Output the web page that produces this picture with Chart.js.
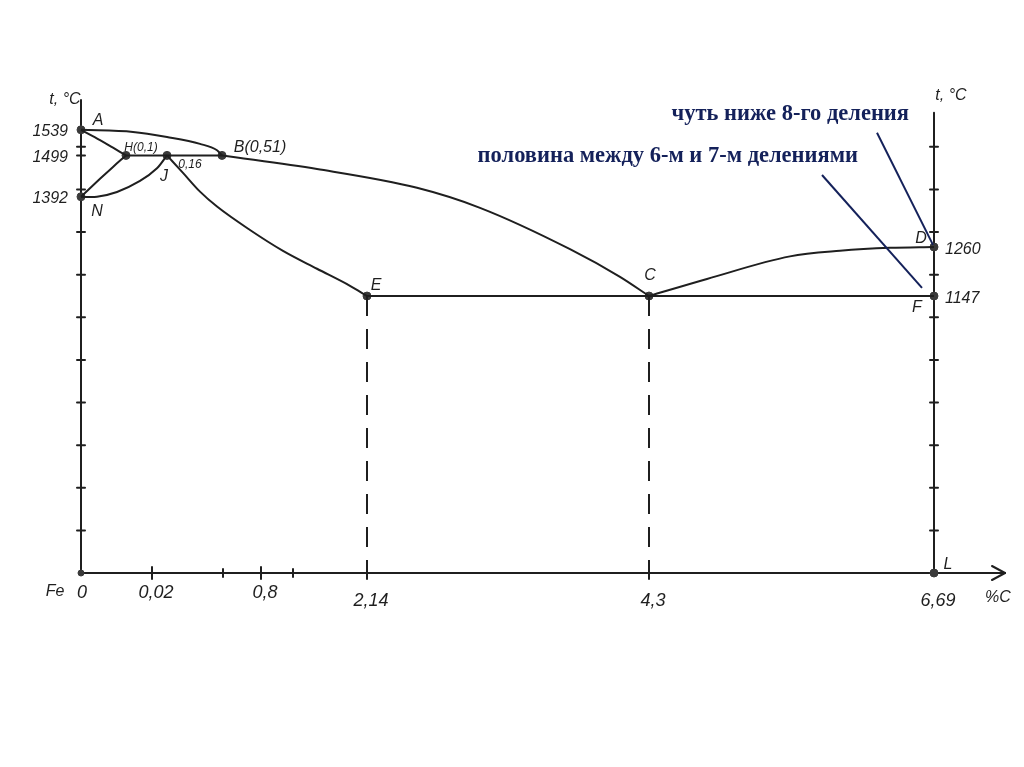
<!DOCTYPE html>
<html>
<head>
<meta charset="utf-8">
<script src="https://cdn.jsdelivr.net/npm/chart.js@4.4.0/dist/chart.umd.min.js"></script>
<style>
  html, body { margin: 0; padding: 0; background: #fff; }
  canvas { display: block; }
</style>
</head>
<body>
<canvas id="myChart" width="1024" height="767"></canvas>
<script>
// Sketch units: x = position along the %C axis of the drawing, y = axis divisions
const curveAB = [[0, 10.4], [5.2, 10.35], [8.6, 10.23], [11.9, 10.07], [13.6, 9.92], [14.1, 9.8]];
const curveBC = [[14.1, 9.8], [23.6, 9.48], [33.6, 9.04], [39.9, 8.57], [48.9, 7.6], [53.9, 6.95], [56.8, 6.5]];
const curveCD = [[56.8, 6.5], [62.6, 6.9], [70.9, 7.43], [75.9, 7.56], [80.9, 7.63], [85.3, 7.65]];
const curveJE = [[8.6, 9.8], [10.2, 9.39], [11.9, 8.95], [13.6, 8.6], [16.9, 8.05], [20.2, 7.56], [23.6, 7.14], [26.9, 6.74], [28.6, 6.5]];
const curveAH = [[0, 10.4], [1.9, 10.16], [3.2, 9.98], [4.5, 9.8]];
const curveHN = [[4.5, 9.8], [3.2, 9.53], [1.9, 9.25], [0, 8.83]];
const curveNJ = [[0, 8.83], [1.6, 8.83], [3.6, 8.94], [5.9, 9.2], [7.6, 9.5], [8.6, 9.8]];
const lineHJB = [[4.5, 9.8], [8.6, 9.8], [14.1, 9.8]];
const lineECF = [[28.6, 6.5], [56.8, 6.5], [85.3, 6.5]];
const dropE = [[28.6, 6.5], [28.6, 0]];
const dropC = [[56.8, 6.5], [56.8, 0]];

const pointNames = ['A', 'H', 'J', 'B', 'N', 'E', 'C', 'D', 'F', 'L', 'O'];
const pointX = [0, 4.5, 8.6, 14.1, 0, 28.6, 56.8, 85.3, 85.3, 85.3, 0];
const pointY = [10.4, 9.8, 9.8, 9.8, 8.83, 6.5, 6.5, 7.65, 6.5, 0, 0];

const carbonTicks = [0, 7.1, 18.0, 28.6, 56.8, 85.3];
const carbonLabels = ['0', '0,02', '0,8', '2,14', '4,3', '6,69'];
const minorCarbonTicks = [14.2, 21.2];
const divisions = [1, 2, 3, 4, 5, 6, 7, 8, 9, 10];

const leftTemps = ['1539', '1499', '1392'];
const leftTempLevels = [10.4, 9.8, 8.83];
const rightTemps = ['1260', '1147'];
const rightTempLevels = [7.65, 6.5];

const notes = ['чуть ниже 8-го деления', 'половина между 6-м и 7-м делениями'];
const noteFrom = [[79.6, 10.33], [74.1, 9.34]];
const noteTo = [[85.2, 7.7], [84.1, 6.69]];

const toXY = arr => arr.map(p => ({ x: p[0], y: p[1] }));
const ink = '#1f1f1f';
const hand = 'italic 16px "Liberation Sans", sans-serif';

function curve(points, extra) {
    return Object.assign({
        data: toXY(points),
        showLine: true,
        borderColor: ink,
        borderWidth: 2,
        pointRadius: 0,
        tension: 0.35,
        fill: false,
        clip: false,
    }, extra || {});
}

const smooth = { cubicInterpolationMode: 'monotone' };

// point-name label offsets (px) from each marker
const nameOffsets = {
    A: [17, -9], H: [0, 0], J: [-3, 21], B: [0, 0], N: [16, 15],
    E: [9, -10], C: [1, -20], D: [-13, -8], F: [-17, 12], L: [14, -8], O: [0, 0],
};

const sketchPlugin = {
    id: 'sketch',
    beforeDatasetsDraw(chart) {
        const { ctx, scales: { x, y } } = chart;
        const px = v => x.getPixelForValue(v);
        const py = v => y.getPixelForValue(v);
        const seg = (a, b, c, d) => { ctx.beginPath(); ctx.moveTo(a, b); ctx.lineTo(c, d); ctx.stroke(); };
        ctx.save();
        ctx.strokeStyle = ink;
        ctx.lineWidth = 2;
        ctx.lineCap = 'round';

        const y0 = py(0);
        const xL = px(0);
        const xEnd = px(x.max);
        const xR = px(85.3);
        // %C axis with arrow
        seg(xL, y0, xEnd, y0);
        seg(xEnd - 13, y0 - 7, xEnd, y0);
        seg(xEnd - 13, y0 + 7, xEnd, y0);
        // temperature axes
        seg(xL, y0, xL, py(y.max));
        seg(xR, y0, xR, py(10.8));
        divisions.forEach(d => {
            seg(xL - 4, py(d), xL + 4, py(d));
            seg(xR - 4, py(d), xR + 4, py(d));
        });
        seg(xL - 4, py(9.8), xL + 4, py(9.8));
        // %C ticks
        carbonTicks.slice(1, 5).forEach(c => seg(px(c), y0 - 6, px(c), y0 + 6));
        minorCarbonTicks.forEach(c => seg(px(c), y0 - 4, px(c), y0 + 4));
        ctx.restore();
    },
    afterDatasetsDraw(chart) {
        const { ctx, scales: { x, y } } = chart;
        const px = v => x.getPixelForValue(v);
        const py = v => y.getPixelForValue(v);
        ctx.save();
        ctx.fillStyle = ink;
        ctx.textBaseline = 'middle';
        ctx.textAlign = 'center';
        ctx.font = hand;

        pointNames.forEach((n, i) => {
            const off = nameOffsets[n];
            if (n === 'O' || n === 'H' || n === 'B') return;
            ctx.fillText(n, px(pointX[i]) + off[0], py(pointY[i]) + off[1]);
        });
        // composition notes
        const hi = pointNames.indexOf('H');
        const bi = pointNames.indexOf('B');
        const ji = pointNames.indexOf('J');
        ctx.font = 'italic 12px "Liberation Sans", sans-serif';
        ctx.fillText('H(0,1)', px(pointX[hi]) + 15, py(pointY[hi]) - 8);
        ctx.fillText('0,16', px(pointX[ji]) + 23, py(pointY[ji]) + 9);
        ctx.font = hand;
        ctx.fillText('B(0,51)', px(pointX[bi]) + 38, py(pointY[bi]) - 8);

        // temperature labels
        ctx.textAlign = 'right';
        leftTemps.forEach((t, i) => ctx.fillText(t, px(0) - 13, py(leftTempLevels[i]) + 2));
        ctx.textAlign = 'left';
        rightTemps.forEach((t, i) => ctx.fillText(t, px(85.3) + 11, py(rightTempLevels[i]) + 3));

        // axis titles
        ctx.textAlign = 'center';
        ctx.fillText('t, °C', px(0) - 16, py(y.max));
        ctx.fillText('t, °C', px(85.3) + 17, py(y.max) - 4);
        ctx.fillText('Fe', px(0) - 26, py(0) + 19);
        ctx.fillText('%C', px(x.max) - 7, py(0) + 25);

        // %C tick labels
        ctx.font = 'italic 18px "Liberation Sans", sans-serif';
        carbonLabels.forEach((l, i) => {
            const big = i >= 3;
            ctx.fillText(l, px(carbonTicks[i]) + (i === 0 ? 1 : 4), py(0) + (big ? 28 : 20));
        });

        // annotations
        ctx.strokeStyle = '#14215a';
        ctx.fillStyle = '#14215a';
        ctx.lineWidth = 2;
        ctx.font = 'bold 22.5px "Liberation Serif", serif';
        ctx.textAlign = 'right';
        notes.forEach((t, i) => {
            const a = noteFrom[i], b = noteTo[i];
            ctx.beginPath();
            ctx.moveTo(px(a[0]), py(a[1]));
            ctx.lineTo(px(b[0]), py(b[1]));
            ctx.stroke();
            const dx = i === 0 ? 32 : 36;
            ctx.fillText(t, px(a[0]) + dx, py(a[1]) - 19);
        });
        ctx.restore();
    },
};

const ctx = document.getElementById('myChart').getContext('2d');
new Chart(ctx, {
    type: 'scatter',
    data: {
        datasets: [
            curve(curveAB, smooth), curve(curveBC, smooth), curve(curveCD, smooth), curve(curveJE, smooth),
            curve(curveAH), curve(curveHN), curve(curveNJ),
            curve(lineHJB, { tension: 0 }), curve(lineECF, { tension: 0 }),
            curve(dropE, { tension: 0, borderDash: [20, 13] }),
            curve(dropC, { tension: 0, borderDash: [20, 13] }),
            {
                data: pointX.map((v, i) => ({ x: v, y: pointY[i] })),
                showLine: false,
                pointRadius: pointNames.map(n => (n === 'O' ? 3 : 4)),
                backgroundColor: '#3a3a3a',
                borderColor: '#3a3a3a',
                clip: false,
            },
        ],
    },
    options: {
        responsive: false,
        animation: false,
        layout: { padding: { left: 81, right: 19, top: 100, bottom: 194 } },
        plugins: { legend: { display: false }, tooltip: { enabled: false } },
        scales: {
            x: { type: 'linear', min: 0, max: 92.4, display: false },
            y: { type: 'linear', min: 0, max: 11.1, display: false },
        },
    },
    plugins: [sketchPlugin],
});
</script>
</body>
</html>
